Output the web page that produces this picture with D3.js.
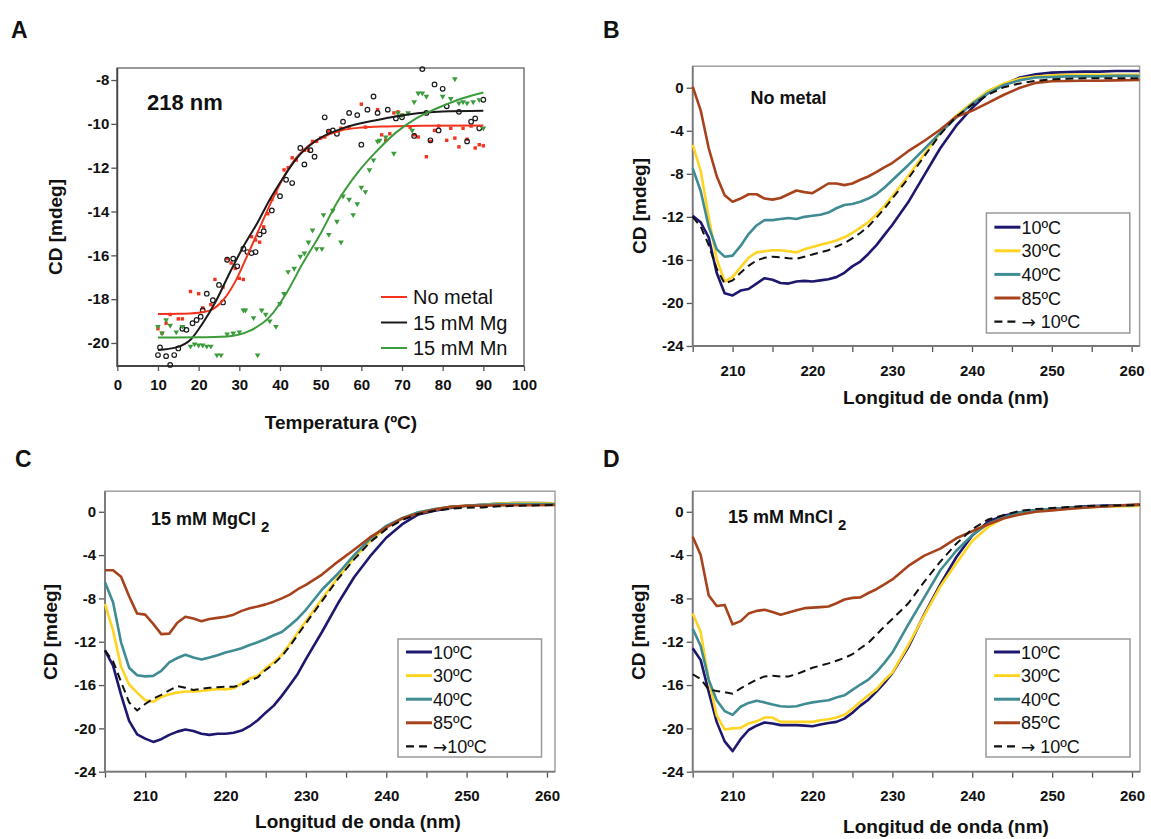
<!DOCTYPE html>
<html lang="es">
<head>
<meta charset="utf-8">
<title>CD</title>
<style>
  body { margin: 0; background: #fff; }
  svg text { font-family: "Liberation Sans", Arial, sans-serif; }
</style>
</head>
<body>
<div id="chart"></div>
<script src="https://d3js.org/d3.v7.min.js"></script>
<script>
// ---------- panel A : CD at 218 nm vs temperature ----------
const tempTicks = d3.range(0, 101, 10)
const cdTicksA = [-20, -18, -16, -14, -12, -10, -8]
const seriesA = ["No metal", "15 mM Mg", "15 mM Mn"]

const noMetalPts = [[10,-19.35],[11,-19.55],[12,-19.1],[13,-18.7],[15,-18.9],[16,-18.9],[18,-17.65],[20,-17.75],
  [21,-18.4],[23,-18.25],[24,-17.1],[26,-17.45],[27,-16.15],[28,-16.35],[29,-16.6],[30,-17.05],[31,-17.1],
  [33,-15.15],[34,-15.3],[35,-15.4],[36,-14.7],[37,-14.1],[38,-13.45],[39,-13.15],[41,-12.1],[42,-12.0],
  [43,-11.55],[44,-11.65],[46,-11.2],[47,-11.2],[48,-10.8],[49,-10.8],[50,-10.65],[51,-10.6],[52,-10.35],
  [55,-10.2],[57,-10.15],[60,-9.1],[61,-10.15],[64,-9.35],[65,-10.5],[66,-10.75],[67,-10.45],[68,-9.5],
  [69,-9.45],[70,-9.6],[72,-10.15],[73,-10.5],[74,-10.6],[76,-11.5],[77,-10.8],[78,-10.3],[79,-10.1],
  [81,-10.75],[82,-10.2],[83,-10.65],[84,-11.05],[85,-10.2],[86,-10.7],[87,-10.1],[88,-11.1],[89,-10.95],[90,-11.0]]

const mgPts = [[10,-20.55],[10.5,-20.2],[12,-20.6],[13,-21.0],[14,-20.55],[15,-20.25],[16,-19.35],[17,-19.4],
  [18.5,-19.1],[19.5,-18.95],[20.5,-18.8],[21,-18.5],[22,-17.75],[23.5,-18.05],[25,-17.35],[26,-18.15],
  [27,-16.2],[28.5,-16.15],[29.5,-16.5],[31,-15.7],[32,-15.85],[33,-15.9],[34,-15.85],[35,-15.05],[36,-14.9],
  [38,-13.95],[40,-13.3],[41.5,-12.55],[43,-12.7],[45,-11.1],[46,-11.85],[47.5,-11.2],[48.5,-11.5],[51,-9.7],
  [52,-10.35],[53,-10.3],[54,-10.45],[55.5,-9.9],[57,-9.5],[59,-9.6],[60,-10.95],[61.5,-9.35],[63,-8.75],
  [64,-9.5],[66.5,-9.35],[68.5,-9.75],[70,-9.7],[73,-10.55],[75,-7.5],[76,-9.5],[77,-10.75],[78,-8.2],
  [79,-10.3],[80,-8.4],[81,-9.2],[84,-9.45],[86,-10.8],[87,-9.9],[88,-9.75],[89,-10.2],[90,-8.9]]

const mnPts = [[10,-19.25],[11,-19.55],[12,-18.95],[13,-19.2],[14.5,-19.5],[16,-19.25],[18,-20.15],[19,-20.05],
  [20,-20.1],[21,-20.1],[22,-20.15],[23,-20.15],[24.5,-20.55],[25.5,-20.55],[27,-19.6],[28.5,-19.55],[30,-19.5],
  [31,-18.5],[31.5,-18.5],[33.5,-18.85],[34.5,-20.55],[35.5,-18.5],[36.5,-18.7],[37.5,-19.0],[39,-19.25],
  [40,-18.2],[41,-17.75],[42,-16.75],[43.5,-16.6],[45,-16.05],[46,-15.9],[47,-15.4],[48,-14.85],[49,-15.7],
  [50.3,-15.7],[50.7,-14.15],[52,-15.05],[53,-13.95],[54,-14.45],[55,-15.4],[55.5,-13.3],[57,-13.45],
  [58,-14.15],[59,-13.65],[60,-12.9],[61,-13.1],[62,-12.1],[63,-11.65],[64,-10.8],[64.5,-10.75],[66,-10.6],
  [68,-11.35],[69,-9.5],[70,-9.6],[71.5,-9.5],[72.5,-10.3],[73,-9.0],[74,-8.6],[75,-8.6],[76,-8.75],
  [80,-8.75],[82,-8.85],[83,-7.95],[84,-9.05],[85,-9.0],[86,-9.05],[87.5,-9.0],[89,-8.9],[90,-10.2]]

const noMetalFit = [[10,-18.68],[15,-18.67],[20,-18.62],[23,-18.5],[26,-18.05],[29,-17.2],[32,-16.0],[35,-14.75],
  [38,-13.5],[41,-12.4],[44,-11.55],[47,-11.0],[50,-10.65],[55,-10.3],[60,-10.17],[65,-10.12],[75,-10.09],[90,-10.07]]
const mgFit = [[10,-20.32],[14.5,-20.2],[18,-19.85],[21,-19.1],[24.5,-18.0],[27.5,-16.85],[31,-15.6],[34.5,-14.5],
  [37.5,-13.45],[41,-12.4],[44,-11.6],[49,-10.75],[55.5,-10.2],[64,-9.82],[72,-9.56],[80,-9.44],[90,-9.4]]
const mnFit = [[10,-19.75],[20,-19.74],[27,-19.7],[32.5,-19.45],[37.5,-18.8],[41.5,-17.75],[45.5,-16.4],[50,-15.0],
  [54,-13.6],[59,-12.25],[64,-11.2],[68.5,-10.4],[73.5,-9.75],[78.5,-9.3],[83.5,-8.92],[90,-8.57]]

// ---------- panels B-D : far-UV spectra ----------
const wavelengths = [205,206,207,208,209,210,211,212,213,214,215,216,217,218,219,220,221,222,223,224,225,226,227,228,229,230,
  232,234,236,238,240,242,244,246,248,250,252,254,256,258,261]
const waveTicks = d3.range(205, 261, 5)
const cdTicks = [-24, -20, -16, -12, -8, -4, 0]
const tempLabels = ["10ºC", "30ºC", "40ºC", "85ºC"]

// B: no metal
const noMetal10 = [-11.9,-12.5,-13.9,-17.2,-19.1,-19.3,-18.85,-18.7,-18.2,-17.7,-17.85,-18.15,-18.2,-18.0,-17.95,-18.0,-17.9,-17.8,-17.6,-17.2,-16.6,-16.15,-15.45,-14.65,-13.7,-12.75,
  -10.65,-8.15,-5.65,-3.55,-1.9,-0.5,0.3,0.95,1.25,1.4,1.45,1.5,1.5,1.55,1.55]
const noMetal30 = [-5.3,-7.7,-12.0,-15.9,-18.0,-17.6,-16.7,-15.8,-15.3,-15.2,-15.1,-15.1,-15.2,-15.3,-15.0,-14.8,-14.6,-14.4,-14.2,-13.9,-13.5,-13.0,-12.5,-11.8,-11.0,-10.1,
  -8.2,-6.2,-4.2,-2.6,-1.4,-0.3,0.4,0.85,1.05,1.15,1.2,1.2,1.2,1.2,1.2]
const noMetal40 = [-7.5,-9.6,-12.9,-15.0,-15.7,-15.6,-14.7,-13.6,-12.8,-12.3,-12.3,-12.2,-12.1,-12.2,-12.0,-11.9,-11.8,-11.6,-11.2,-10.9,-10.8,-10.6,-10.3,-9.9,-9.3,-8.6,
  -7.2,-5.7,-4.2,-2.8,-1.5,-0.5,0.25,0.7,0.95,1.0,1.05,1.05,1.05,1.1,1.1]
const noMetal85 = [0.1,-2.1,-5.6,-8.2,-10.0,-10.6,-10.3,-9.9,-9.9,-10.3,-10.4,-10.25,-9.9,-9.55,-9.7,-9.8,-9.35,-8.9,-8.9,-9.05,-8.9,-8.55,-8.25,-7.85,-7.4,-7.0,
  -5.9,-4.95,-3.9,-2.7,-2.15,-1.4,-0.65,0.0,0.45,0.6,0.62,0.65,0.65,0.68,0.72]
const noMetalBack = [-12.0,-12.9,-14.6,-16.8,-18.2,-17.9,-17.2,-16.55,-16.05,-15.8,-15.7,-15.75,-15.85,-15.9,-15.7,-15.5,-15.3,-15.1,-14.75,-14.45,-14.0,-13.5,-12.9,-12.1,-11.25,-10.3,
  -8.45,-6.4,-4.35,-2.7,-1.6,-0.65,0.05,0.4,0.65,0.78,0.84,0.87,0.87,0.87,0.87]

// C: 15 mM MgCl2
const mg10 = [-12.8,-14.2,-16.9,-19.3,-20.55,-20.95,-21.25,-21.0,-20.6,-20.3,-20.1,-20.25,-20.5,-20.6,-20.5,-20.5,-20.4,-20.2,-19.8,-19.25,-18.55,-17.9,-17.0,-16.0,-14.95,-13.6,
  -11.1,-8.45,-6.05,-4.1,-2.4,-1.15,-0.25,0.1,0.35,0.55,0.65,0.75,0.8,0.8,0.78]
const mg30 = [-8.5,-10.95,-14.3,-15.95,-16.7,-17.4,-17.55,-17.1,-16.85,-16.7,-16.6,-16.6,-16.55,-16.45,-16.35,-16.4,-16.3,-15.85,-15.4,-15.15,-14.45,-13.9,-13.2,-12.2,-11.15,-10.1,
  -8.05,-6.05,-4.25,-2.7,-1.45,-0.6,-0.05,0.2,0.45,0.55,0.65,0.75,0.8,0.8,0.78]
const mg40 = [-6.5,-8.35,-12.05,-14.4,-15.1,-15.2,-15.15,-14.7,-13.9,-13.5,-13.2,-13.45,-13.65,-13.45,-13.25,-13.0,-12.8,-12.6,-12.3,-12.05,-11.75,-11.4,-11.1,-10.5,-9.85,-9.05,
  -7.2,-5.7,-4.0,-2.5,-1.3,-0.6,-0.05,0.25,0.45,0.55,0.65,0.7,0.72,0.72,0.72]
const mg85 = [-5.4,-5.4,-6.0,-7.8,-9.4,-9.5,-10.35,-11.3,-11.25,-10.25,-9.7,-9.85,-10.1,-9.9,-9.8,-9.7,-9.5,-9.15,-8.9,-8.75,-8.55,-8.3,-8.0,-7.65,-7.15,-6.75,
  -5.8,-4.6,-3.5,-2.35,-1.45,-0.6,-0.15,0.2,0.45,0.55,0.56,0.59,0.6,0.6,0.62]
const mgBack = [-12.8,-13.8,-15.7,-17.6,-18.35,-17.75,-17.25,-16.9,-16.5,-16.1,-16.25,-16.45,-16.35,-16.25,-16.2,-16.15,-16.15,-16.0,-15.6,-15.3,-14.6,-14.05,-13.35,-12.4,-11.35,-10.3,
  -8.25,-6.2,-4.4,-2.8,-1.6,-0.75,-0.2,0.1,0.28,0.37,0.4,0.5,0.55,0.58,0.62]

// D: 15 mM MnCl2
const mn10 = [-12.6,-13.7,-16.6,-19.4,-21.2,-22.1,-21.0,-20.15,-19.75,-19.45,-19.55,-19.7,-19.7,-19.7,-19.75,-19.8,-19.65,-19.5,-19.4,-19.1,-18.55,-17.9,-17.35,-16.6,-15.8,-14.9,
  -12.5,-9.45,-6.7,-4.2,-2.2,-0.9,-0.35,-0.05,0.15,0.22,0.37,0.5,0.56,0.59,0.62]
const mn30 = [-9.4,-11.1,-15.5,-18.8,-20.1,-20.0,-19.95,-19.55,-19.35,-19.0,-19.0,-19.4,-19.4,-19.4,-19.4,-19.4,-19.25,-19.15,-19.0,-18.75,-18.2,-17.55,-16.95,-16.4,-15.55,-14.85,
  -12.3,-9.55,-6.9,-4.75,-2.7,-1.4,-0.55,-0.2,0.1,0.2,0.3,0.4,0.47,0.5,0.53]
const mn40 = [-10.8,-12.4,-15.5,-17.4,-18.4,-18.75,-18.0,-17.65,-17.45,-17.6,-17.8,-17.95,-18.0,-17.95,-17.75,-17.6,-17.5,-17.4,-17.15,-16.95,-16.45,-15.95,-15.5,-14.8,-13.95,-13.0,
  -10.4,-7.9,-5.4,-3.6,-2.15,-1.1,-0.5,-0.05,0.15,0.28,0.37,0.43,0.5,0.56,0.62]
const mn85 = [-2.3,-4.0,-7.7,-8.7,-8.6,-10.4,-10.1,-9.4,-9.15,-9.05,-9.25,-9.5,-9.3,-9.1,-8.9,-8.85,-8.8,-8.75,-8.45,-8.1,-7.95,-7.9,-7.5,-7.15,-6.7,-6.25,
  -5.0,-4.05,-3.4,-2.45,-1.8,-1.15,-0.6,-0.25,0.0,0.13,0.25,0.37,0.47,0.56,0.68]
const mnBack = [-15.0,-15.45,-16.4,-16.55,-16.65,-16.8,-16.3,-15.9,-15.5,-15.2,-15.15,-15.2,-15.2,-15.0,-14.7,-14.4,-14.2,-14.0,-13.75,-13.5,-13.15,-12.6,-12.1,-11.35,-10.6,-9.9,
  -8.45,-6.45,-4.6,-2.95,-1.6,-0.7,-0.3,0.1,0.25,0.34,0.43,0.53,0.56,0.59,0.62]

const tempColors = ["#1d186e", "#ffd424", "#3f8c92", "#a7431c"]

const svg = d3.select("#chart").append("svg").attr("width", 1151).attr("height", 839)

function addText(g, x, y, str, size, weight, anchor) {
  return g.append("text").attr("x", x).attr("y", y).text(str)
    .attr("font-size", size).attr("font-weight", weight || "normal")
    .attr("text-anchor", anchor || "start").attr("fill", "#111")
}

function yTitle(g, x, y, size) {
  g.append("text").attr("transform", `translate(${x},${y}) rotate(-90)`)
    .attr("text-anchor", "middle").attr("font-size", size).attr("font-weight", "bold")
    .attr("fill", "#111").text("CD [mdeg]")
}

function styleTicks(g) {
  g.select(".domain").remove()
  g.selectAll(".tick line").attr("stroke", "#555").attr("stroke-width", 1.3)
  g.selectAll(".tick text").attr("fill", "#111").attr("font-size", 15).attr("font-weight", "bold")
    .attr("font-family", "'Liberation Sans', Arial, sans-serif")
}

function plotFrame(g, x, y, frameColor, axisColor) {
  const [x0, x1] = x.range(), [y0, y1] = y.range()
  g.append("rect").attr("x", x0).attr("y", y1).attr("width", x1 - x0).attr("height", y0 - y1)
    .attr("fill", "none").attr("stroke", frameColor).attr("stroke-width", 1.5)
  g.append("path").attr("d", `M${x0},${y1}V${y0}H${x1}`)
    .attr("fill", "none").attr("stroke", axisColor).attr("stroke-width", 1.8)
}

// ---------- A ----------
function drawA() {
  const g = svg.append("g")
  const x = d3.scaleLinear().domain([0, 100]).range([117.3, 524])
  const y = d3.scaleLinear().domain([-21.05, -7.45]).range([366, 68])

  g.append("g").attr("transform", `translate(0,${y.range()[0]})`)
    .call(d3.axisBottom(x).tickValues(tempTicks).tickSize(5).tickPadding(8).tickSizeOuter(0))
    .call(styleTicks)
  g.append("g").attr("transform", `translate(${x.range()[0]},0)`)
    .call(d3.axisLeft(y).tickValues(cdTicksA).tickSize(6).tickPadding(2).tickFormat(d => d))
    .call(styleTicks)
  plotFrame(g, x, y, "#777", "#444")

  const line = d3.line().curve(d3.curveMonotoneX).x(d => x(d[0])).y(d => y(d[1]))
  const colors = ["#f3331d", "#1a1a1a", "#3c9c3c"]

  g.append("g").selectAll("rect").data(noMetalPts).join("rect")
    .attr("x", d => x(d[0]) - 1.7).attr("y", d => y(d[1]) - 1.7)
    .attr("width", 3.4).attr("height", 3.4).attr("fill", colors[0])
  g.append("g").selectAll("circle").data(mgPts).join("circle")
    .attr("cx", d => x(d[0])).attr("cy", d => y(d[1])).attr("r", 2.3)
    .attr("fill", "none").attr("stroke", colors[1]).attr("stroke-width", 1.2)
  const tri = d3.symbol(d3.symbolTriangle, 14)
  g.append("g").selectAll("path").data(mnPts).join("path")
    .attr("d", tri).attr("transform", d => `translate(${x(d[0])},${y(d[1])}) rotate(180)`)
    .attr("fill", colors[2])

  ;[noMetalFit, mgFit, mnFit].forEach((fit, i) => {
    g.append("path").datum(fit).attr("d", line).attr("fill", "none")
      .attr("stroke", colors[i]).attr("stroke-width", 2)
  })

  seriesA.forEach((s, i) => {
    const ry = 297 + i * 25.5
    g.append("line").attr("x1", 381).attr("x2", 407).attr("y1", ry).attr("y2", ry)
      .attr("stroke", colors[i]).attr("stroke-width", 2)
    addText(g, 413, ry + 7, s, 20)
  })

  addText(g, 147, 110, "218 nm", 22, "bold")
  addText(g, 11, 38, "A", 23, "bold")
  yTitle(g, 62, 227, 19)
  addText(g, 341, 429, "Temperatura (ºC)", 19, "bold", "middle")
}

// ---------- B, C, D ----------
function drawSpectra(p) {
  const g = svg.append("g")
  const x = d3.scaleLinear().domain([205, 261]).range(p.xr)
  const y = d3.scaleLinear().domain([-24, p.top]).range(p.yr)

  g.append("g").attr("transform", `translate(0,${y(-24)})`)
    .call(d3.axisBottom(x).tickValues(waveTicks).tickSize(6).tickPadding(13).tickSizeOuter(0)
      .tickFormat(d => d % 10 === 0 ? d : ""))
    .call(styleTicks)
  g.append("g").attr("transform", `translate(${x.range()[0]},0)`)
    .call(d3.axisLeft(y).tickValues(cdTicks).tickSize(6).tickPadding(3).tickFormat(d => d))
    .call(styleTicks)
  plotFrame(g, x, y, "#a0a0a0", "#777")

  const line = d3.line().x((d, i) => x(wavelengths[i])).y(d => y(d))
  p.series.forEach((s, i) => {
    g.append("path").datum(s).attr("d", line).attr("fill", "none")
      .attr("stroke", tempColors[i]).attr("stroke-width", 2.6).attr("stroke-linejoin", "round")
  })
  g.append("path").datum(p.back).attr("d", line).attr("fill", "none")
    .attr("stroke", "#111").attr("stroke-width", 2).attr("stroke-dasharray", "8,5")

  const L = p.legend
  g.append("rect").attr("x", L.x).attr("y", L.y).attr("width", L.w).attr("height", L.h)
    .attr("fill", "#fff").attr("stroke", "#999").attr("stroke-width", 1.5)
  tempLabels.forEach((t, i) => {
    const ry = L.y + L.first + i * 23.6
    g.append("line").attr("x1", L.x + 8).attr("x2", L.x + 34).attr("y1", ry).attr("y2", ry)
      .attr("stroke", tempColors[i]).attr("stroke-width", 3)
    addText(g, L.x + 35, ry + 6.5, t, 18)
  })
  const by = L.y + L.first + 4 * 23.6
  g.append("line").attr("x1", L.x + 8).attr("x2", L.x + 31).attr("y1", by).attr("y2", by)
    .attr("stroke", "#111").attr("stroke-width", 2.4).attr("stroke-dasharray", "8,5")
  const bt = g.append("text").attr("x", L.x + 35).attr("y", by + 6.5)
    .attr("font-size", 18).attr("fill", "#111")
  bt.append("tspan").attr("font-family", "'DejaVu Sans', sans-serif").attr("font-size", 17).text("→")
  bt.append("tspan").text(p.backLabel)

  const note = addText(g, p.note[0], p.note[1], p.noteText, 18, "bold")
  if (p.sub) note.append("tspan").attr("dx", 5).attr("dy", 7).attr("font-size", 15).text("2")

  addText(g, p.letter[0], p.letter[1], p.letterText, 23, "bold")
  yTitle(g, p.ytitle[0], p.ytitle[1], 19)
  addText(g, p.xtitle[0], p.xtitle[1], "Longitud de onda (nm)", 19, "bold", "middle")
}

drawA()
drawSpectra({
  xr: [692.7, 1139.6], yr: [346, 66.2], top: 2,
  series: [noMetal10, noMetal30, noMetal40, noMetal85], back: noMetalBack, backLabel: " 10ºC",
  legend: { x: 986.4, y: 213, w: 143.4, h: 120, first: 14.2 },
  note: [750.6, 104], noteText: "No metal", sub: false,
  letter: [603, 38], letterText: "B", ytitle: [646, 206], xtitle: [946, 404]
})
drawSpectra({
  xr: [105, 555], yr: [771.7, 491.2], top: 1.9,
  series: [mg10, mg30, mg40, mg85], back: mgBack, backLabel: "10ºC",
  legend: { x: 398, y: 639, w: 143.5, h: 118, first: 13 },
  note: [151, 525], noteText: "15 mM MgCl", sub: true,
  letter: [15, 467], letterText: "C", ytitle: [57, 632], xtitle: [358, 828]
})
drawSpectra({
  xr: [692.7, 1140], yr: [771.7, 491.2], top: 1.9,
  series: [mn10, mn30, mn40, mn85], back: mnBack, backLabel: " 10ºC",
  legend: { x: 986, y: 639, w: 144, h: 118, first: 13 },
  note: [728, 523], noteText: "15 mM MnCl", sub: true,
  letter: [603, 467], letterText: "D", ytitle: [645, 632], xtitle: [946, 833]
})
</script>
</body>
</html>
